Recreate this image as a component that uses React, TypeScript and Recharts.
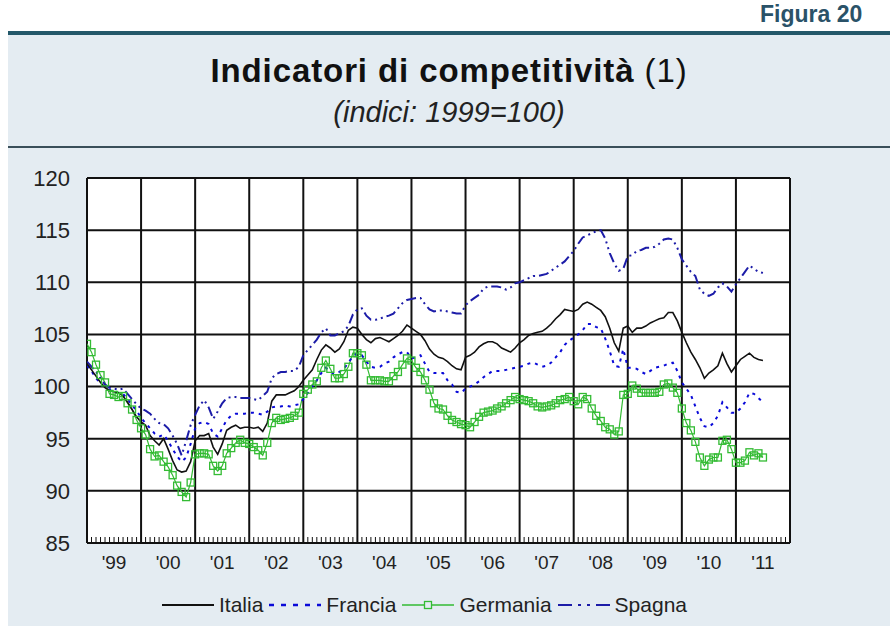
import React from 'react';
import { LineChart, Line, XAxis, YAxis, CartesianGrid } from 'recharts';

// indici mensili, gen 1999 - lug 2011
const italia = [
  102.2, 101.6, 101.0, 100.4, 99.9, 99.6, 99.5, 99.4, 99.1, 98.5, 97.8, 97.1,
  96.6, 96.3, 95.3, 94.8, 94.4, 95.0, 94.0, 92.9, 92.0, 91.8, 91.9, 92.8,
  94.8, 95.3, 95.3, 95.5, 94.2, 93.5, 94.5, 95.8, 96.1, 96.3, 96.0, 96.1,
  96.1, 96.0, 96.1, 95.7, 96.5, 98.6, 99.2, 99.2, 99.2, 99.4, 99.6, 100.0,
  100.6, 101.1, 101.6, 102.6, 103.5, 104.0, 103.7, 103.3, 103.6, 104.3, 105.4, 105.7,
  105.6, 105.0, 104.5, 104.2, 104.6, 104.7, 104.5, 104.3, 104.6, 104.9, 105.3, 105.9,
  105.6, 105.3, 105.0, 104.4, 103.6, 103.1, 102.8, 102.7, 102.4, 102.0, 101.7, 101.6,
  102.8, 103.0, 103.3, 103.8, 104.1, 104.3, 104.3, 104.1, 103.7, 103.5, 103.3, 103.7,
  104.2, 104.5, 104.9, 105.1, 105.2, 105.3, 105.6, 106.0, 106.5, 106.9, 107.4, 107.3,
  107.2, 107.4, 107.9, 108.1, 107.9, 107.6, 107.3, 106.7, 105.6, 104.2, 103.4, 105.6,
  105.8, 105.2, 105.6, 105.6, 105.8, 106.1, 106.3, 106.5, 106.6, 107.1, 107.1, 106.3,
  105.2, 104.2, 103.3, 102.6, 101.8, 100.8, 101.3, 101.6, 102.0, 103.2, 102.2, 101.4,
  102.0, 102.6, 102.9, 103.2, 102.8, 102.6, 102.5,
];

const francia = [
  102.0, 101.5, 100.8, 100.3, 99.9, 99.7, 99.6, 99.4, 99.3, 98.8, 98.2, 97.7,
  97.0, 96.5, 96.0, 95.5, 95.2, 95.4, 94.8, 94.0, 93.3, 92.8, 93.2, 94.5,
  96.0, 96.5, 96.6, 96.4, 95.5, 95.2, 96.0, 96.8, 97.2, 97.4, 97.4, 97.4,
  97.5, 97.5, 97.4, 97.3, 97.6, 98.0, 98.1, 98.1, 98.2, 98.1, 98.2, 98.3,
  98.8, 99.4, 100.0, 100.6, 101.3, 101.8, 101.4, 101.2, 101.4, 101.7, 102.3, 102.9,
  103.2, 103.0, 102.4, 101.9, 101.8, 101.9, 102.2, 102.4, 102.8, 103.1, 103.3, 103.3,
  102.7, 102.8, 103.0, 102.2, 101.4, 101.3, 101.3, 101.3, 100.6, 100.2, 99.5, 99.4,
  99.8, 100.0, 100.2, 100.5, 100.9, 101.2, 101.5, 101.5, 101.5, 101.6, 101.7, 101.8,
  101.9, 102.0, 102.2, 102.3, 102.1, 101.9, 102.0, 102.3, 102.8, 103.3, 104.0, 104.4,
  104.7, 105.0, 105.4, 106.0, 106.0, 105.7, 105.6, 104.6, 103.4, 102.0, 101.9, 103.6,
  101.8, 101.8, 101.7, 101.4, 101.2, 101.5, 101.8, 101.9, 102.0, 102.2, 102.3, 101.5,
  100.4, 99.8, 99.2, 98.1, 97.0, 96.2, 96.1, 96.5, 97.2, 98.5, 98.0, 97.5,
  97.5, 97.9, 98.5, 99.4, 99.3, 98.9, 98.5,
];

const germania = [
  104.1, 103.3, 102.1, 101.1, 100.4, 99.3, 99.2, 99.0, 99.1, 98.4, 97.8, 96.8,
  96.0, 95.4, 94.0, 93.3, 93.4, 92.8, 92.3, 91.5, 90.5, 89.9, 89.4, 90.8,
  93.5, 93.6, 93.6, 93.5, 92.4, 91.9, 92.4, 93.6, 94.1, 94.6, 94.9, 94.6,
  94.5, 94.2, 93.9, 93.4, 94.6, 96.5, 97.0, 96.8, 96.9, 97.0, 97.2, 97.5,
  99.3, 99.7, 100.2, 100.5, 101.8, 102.5, 101.7, 100.8, 100.8, 101.2, 101.9, 103.2,
  103.2, 103.0, 102.1, 100.6, 100.6, 100.6, 100.5, 100.5, 101.0, 101.4, 102.1, 102.7,
  102.5, 101.8, 101.4, 100.6, 99.7, 98.4, 97.9, 97.8, 97.2, 96.8, 96.6, 96.4,
  96.3, 96.1, 96.6, 97.1, 97.5, 97.6, 97.7, 97.9, 98.1, 98.4, 98.7, 99.0,
  98.8, 98.7, 98.6, 98.4, 98.1, 98.0, 98.1, 98.2, 98.4, 98.7, 98.8, 99.0,
  98.6, 98.3, 99.0, 98.8, 97.9, 97.2, 96.7, 96.1, 95.9, 95.4, 95.7, 99.2,
  99.3, 100.1, 99.8, 99.4, 99.4, 99.4, 99.4, 99.5, 100.2, 100.3, 99.9, 99.4,
  97.9, 96.5, 95.8, 94.7, 93.2, 92.4, 93.0, 93.2, 93.2, 94.8, 94.9, 94.0,
  92.7, 92.7, 92.9, 93.7, 93.4, 93.6, 93.2,
];

const spagna = [
  102.4, 101.9, 101.4, 100.8, 100.2, 99.9, 99.8, 99.7, 99.8, 99.3, 98.8, 98.3,
  97.9, 97.7, 97.4, 96.9, 96.5, 96.4, 96.0, 95.3, 94.5, 93.4, 94.8, 96.3,
  97.3, 98.2, 98.7, 98.0, 96.9, 97.6, 98.4, 98.9, 99.0, 99.0, 98.9, 98.9,
  98.9, 98.8, 98.7, 99.1, 99.5, 100.8, 101.2, 101.4, 101.4, 101.5, 101.5, 101.9,
  103.0, 103.5, 104.0, 104.5, 105.2, 105.6, 104.9, 104.9, 105.1, 105.3, 105.8, 106.9,
  107.4, 107.5, 106.8, 106.4, 106.4, 106.5, 106.7, 106.8, 107.0, 107.5, 108.0, 108.3,
  108.4, 108.5, 108.5, 107.9, 107.4, 107.2, 107.3, 107.3, 107.2, 107.1, 107.0, 107.0,
  107.8, 108.2, 108.5, 108.8, 109.4, 109.6, 109.6, 109.6, 109.5, 109.3, 109.5, 109.9,
  110.0, 110.2, 110.4, 110.6, 110.6, 110.7, 110.8, 111.1, 111.4, 111.7, 112.0, 112.5,
  113.0, 113.7, 114.3, 114.5, 114.7, 114.9, 115.0, 114.2, 112.8, 111.8, 111.1, 111.3,
  112.5, 112.6, 113.0, 113.1, 113.3, 113.3, 113.4, 113.7, 114.1, 114.2, 114.1, 113.3,
  112.2, 111.6, 111.0, 110.6, 109.3, 108.9, 108.7, 108.9, 109.5, 109.9, 109.6, 109.1,
  109.8, 110.4, 111.0, 111.6, 111.3, 111.0, 110.9,
];

const anni = ["'99", "'00", "'01", "'02", "'03", "'04", "'05", "'06", "'07", "'08", "'09", "'10", "'11"];
const yTicks = [85, 90, 95, 100, 105, 110, 115, 120];

const data = italia.map((v, i) => ({
  m: i,
  italia: v,
  francia: francia[i],
  germania: germania[i],
  spagna: spagna[i],
}));

const N_MESI = anni.length * 12;
const confiniAnni = Array.from({ length: anni.length + 1 }, (_, i) => i * 12);
const tuttiMesi = Array.from({ length: N_MESI + 1 }, (_, i) => i);

const FONT = '"Liberation Sans", Arial, Helvetica, sans-serif';
const GREEN = '#33bb33';
const BLUE_FR = '#0a0ad8';
const BLUE_ES = '#1c1ca8';
const X_TICK_MARGIN = 13;

const SquareDot = (props: any) => {
  const { cx, cy, index } = props;
  if (cx == null || cy == null) return <g key={index} />;
  return (
    <rect key={index} x={cx - 3.5} y={cy - 3.5} width={7} height={7}
      fill="none" stroke={GREEN} strokeWidth={1.3} />
  );
};

// tacche mensili verso l'interno + etichetta dell'anno a metà anno
const MeseTick = (props: any) => {
  const { x, y, payload } = props;
  const m = payload.value;
  const base = y - X_TICK_MARGIN;
  const label = m % 12 === 6 ? anni[(m - 6) / 12] : null;
  return (
    <g>
      {m % 12 !== 0 && <line x1={x} y1={base} x2={x} y2={base - 6} stroke="#111" strokeWidth={1} />}
      {label && (
        <text x={x} y={y} dy="0.71em" textAnchor="middle" fill="#222" fontSize={19} fontFamily={FONT}>
          {label}
        </text>
      )}
    </g>
  );
};

// griglia verticale sui confini d'anno, dalla scala dell'asse se disponibile
const verticaliAnni = (p: any) => {
  const sc = p?.xAxis?.scale;
  return confiniAnni.map((v) => {
    if (typeof sc === 'function') return sc(v);
    if (sc && typeof sc.map === 'function') return sc.map(v);
    return p.offset.left + (v / N_MESI) * p.offset.width;
  });
};

const LegendItem = ({ sample, label }: { sample: React.ReactNode; label: string }) => (
  <div style={{ display: 'flex', alignItems: 'center', marginRight: 4 }}>
    <svg width={56} height={14}>{sample}</svg>
    <span style={{ marginLeft: 3 }}>{label}</span>
  </div>
);

export default function App() {
  return (
    <div style={{ position: 'absolute', left: 0, top: 0, width: 890, height: 626, background: '#fff', overflow: 'hidden', fontFamily: FONT }}>
      <div style={{ position: 'absolute', left: 8, top: 31, width: 882, height: 595, background: '#e4ecf2' }} />
      <div style={{ position: 'absolute', left: 8, top: 31, width: 882, height: 4, background: '#23586a' }} />
      <div style={{ position: 'absolute', left: 8, top: 146, width: 882, height: 2, background: '#3a4f5a' }} />
      <div style={{ position: 'absolute', left: 760, top: 1, fontSize: 23, lineHeight: '26px', fontWeight: 'bold', color: '#2a5268', whiteSpace: 'nowrap' }}>Figura 20</div>
      <div style={{ position: 'absolute', left: 8, width: 882, top: 52, textAlign: 'center', fontSize: 33, color: '#111', letterSpacing: 0.9 }}>
        <b>Indicatori di competitività</b> (1)
      </div>
      <div style={{ position: 'absolute', left: 8, width: 882, top: 96, textAlign: 'center', fontSize: 29, fontStyle: 'italic', color: '#222' }}>
        (indici: 1999=100)
      </div>

      <div style={{ position: 'absolute', left: 0, top: 0 }}>
        <LineChart width={890} height={626} data={data} margin={{ top: 178, right: 0, bottom: 43, left: 0 }}>
          <CartesianGrid
            yAxisId="sx"
            fill="#fff"
            stroke="#111"
            strokeWidth={2}
            verticalCoordinatesGenerator={verticaliAnni}
          />
          <XAxis
            dataKey="m"
            type="number"
            domain={[0, N_MESI]}
            ticks={tuttiMesi}
            interval={0}
            height={40}
            axisLine={false}
            tickLine={false}
            tickSize={0}
            tickMargin={X_TICK_MARGIN}
            tick={<MeseTick />}
            allowDataOverflow
          />
          <YAxis
            yAxisId="sx"
            domain={[85, 120]}
            ticks={yTicks}
            interval={0}
            width={87}
            axisLine={false}
            tickLine={false}
            tickSize={0}
            tickMargin={17}
            tick={{ fill: '#222', fontSize: 22, fontFamily: FONT }}
          />
          <YAxis
            yAxisId="dx"
            orientation="right"
            domain={[85, 120]}
            ticks={yTicks}
            interval={0}
            width={100}
            axisLine={false}
            tickLine={false}
            tickSize={0}
            tickMargin={20}
            tick={{ fill: '#222', fontSize: 22, fontFamily: FONT }}
          />
          <Line yAxisId="sx" type="linear" dataKey="germania" stroke={GREEN} strokeWidth={1.2}
            dot={SquareDot} activeDot={false} isAnimationActive={false} />
          <Line yAxisId="sx" type="linear" dataKey="francia" stroke={BLUE_FR} strokeWidth={2}
            strokeDasharray="3 5" dot={false} activeDot={false} isAnimationActive={false} />
          <Line yAxisId="sx" type="linear" dataKey="spagna" stroke={BLUE_ES} strokeWidth={2}
            strokeDasharray="10 4 2 4 2 4" dot={false} activeDot={false} isAnimationActive={false} />
          <Line yAxisId="sx" type="linear" dataKey="italia" stroke="#111" strokeWidth={1.6}
            dot={false} activeDot={false} isAnimationActive={false} />
        </LineChart>
      </div>

      <div style={{ position: 'absolute', left: 160, top: 593, display: 'flex', fontSize: 21, color: '#222', alignItems: 'center' }}>
        <LegendItem label="Italia" sample={<line x1={2} y1={7} x2={54} y2={7} stroke="#111" strokeWidth={1.8} />} />
        <LegendItem label="Francia" sample={<line x1={2} y1={7} x2={54} y2={7} stroke={BLUE_FR} strokeWidth={2.5} strokeDasharray="5 7" />} />
        <LegendItem label="Germania" sample={<g>
          <line x1={2} y1={7} x2={54} y2={7} stroke={GREEN} strokeWidth={1.3} />
          <rect x={24.5} y={3.5} width={7} height={7} fill="#e4ecf2" stroke={GREEN} strokeWidth={1.3} />
        </g>} />
        <LegendItem label="Spagna" sample={<line x1={2} y1={7} x2={54} y2={7} stroke={BLUE_ES} strokeWidth={2.2} strokeDasharray="14 6 3 6 3 6" />} />
      </div>
    </div>
  );
}
